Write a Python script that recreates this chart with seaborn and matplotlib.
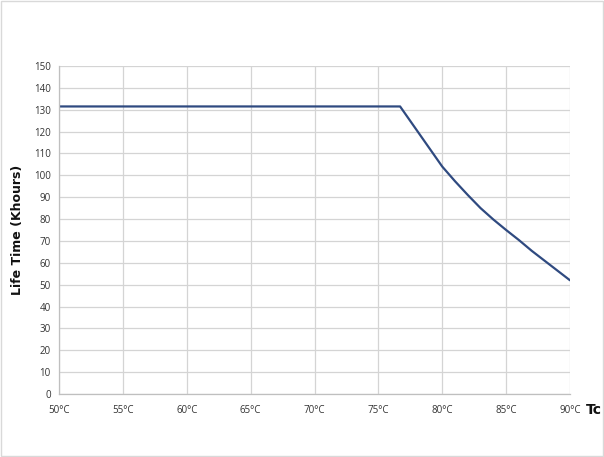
import matplotlib
matplotlib.use("Agg")
import matplotlib.pyplot as plt
import seaborn as sns
import pandas as pd
from matplotlib.patches import Rectangle

# Case temperature (°C) and rated life time (thousand hours)
tc_values = [50, 55, 60, 65, 70, 75, 76.7, 80, 81, 82, 83, 84, 85, 86, 87, 88, 89, 90]
life_khours = [131.5, 131.5, 131.5, 131.5, 131.5, 131.5, 131.5, 104, 97.3, 91, 85, 79.8, 75, 70.4, 65.5, 61, 56.5, 52]

x_ticks = [50, 55, 60, 65, 70, 75, 80, 85, 90]
x_tick_labels = ["50°C", "55°C", "60°C", "65°C", "70°C", "75°C", "80°C", "85°C", "90°C"]
y_ticks = list(range(0, 151, 10))

df = pd.DataFrame({"Tc": tc_values, "Life": life_khours})

sns.set_theme(style="white")
plt.rcParams["font.family"] = ["Open Sans", "DejaVu Sans"]

fig = plt.figure(figsize=(6.04, 4.57), dpi=100)
ax = fig.add_axes([59 / 604, 1 - 394 / 457, (570 - 59) / 604, (394 - 66) / 457])

sns.lineplot(data=df, x="Tc", y="Life", ax=ax, color="#2F4A80", linewidth=1.6)

ax.set_xlim(50, 90)
ax.set_ylim(0, 150)
ax.set_xticks(x_ticks)
ax.set_xticklabels(x_tick_labels)
ax.set_yticks(y_ticks)
ax.grid(True, color="#D4D4D4", linewidth=0.9)
ax.tick_params(axis="both", labelsize=7, colors="#333333", length=0, pad=6)
ax.tick_params(axis="x", pad=8)
for lab in ax.get_xticklabels() + ax.get_yticklabels():
    lab.set_color("#333333")
for side, sp in ax.spines.items():
    sp.set_color("#BFBFBF")
    sp.set_linewidth(0.9)
ax.spines["top"].set_visible(False)
ax.spines["right"].set_visible(False)

ax.set_xlabel("")
ax.set_ylabel("")
fig.text(18 / 604, 1 - 230 / 457, "Life Time (Khours)", rotation=90, ha="center", va="center",
         fontsize=9, fontweight="bold", color="#111111", family=["DejaVu Sans"])
fig.text(594 / 604, 1 - 410 / 457, "Tc", ha="center", va="center",
         fontsize=10, fontweight="bold", color="#111111", family=["DejaVu Sans"])

# light frame around the whole figure
fig.patches.append(Rectangle((0.002, 0.002), 0.996, 0.996, transform=fig.transFigure,
                             fill=False, edgecolor="#D9D9D9", linewidth=1))

fig.savefig("out.png", dpi=100)
